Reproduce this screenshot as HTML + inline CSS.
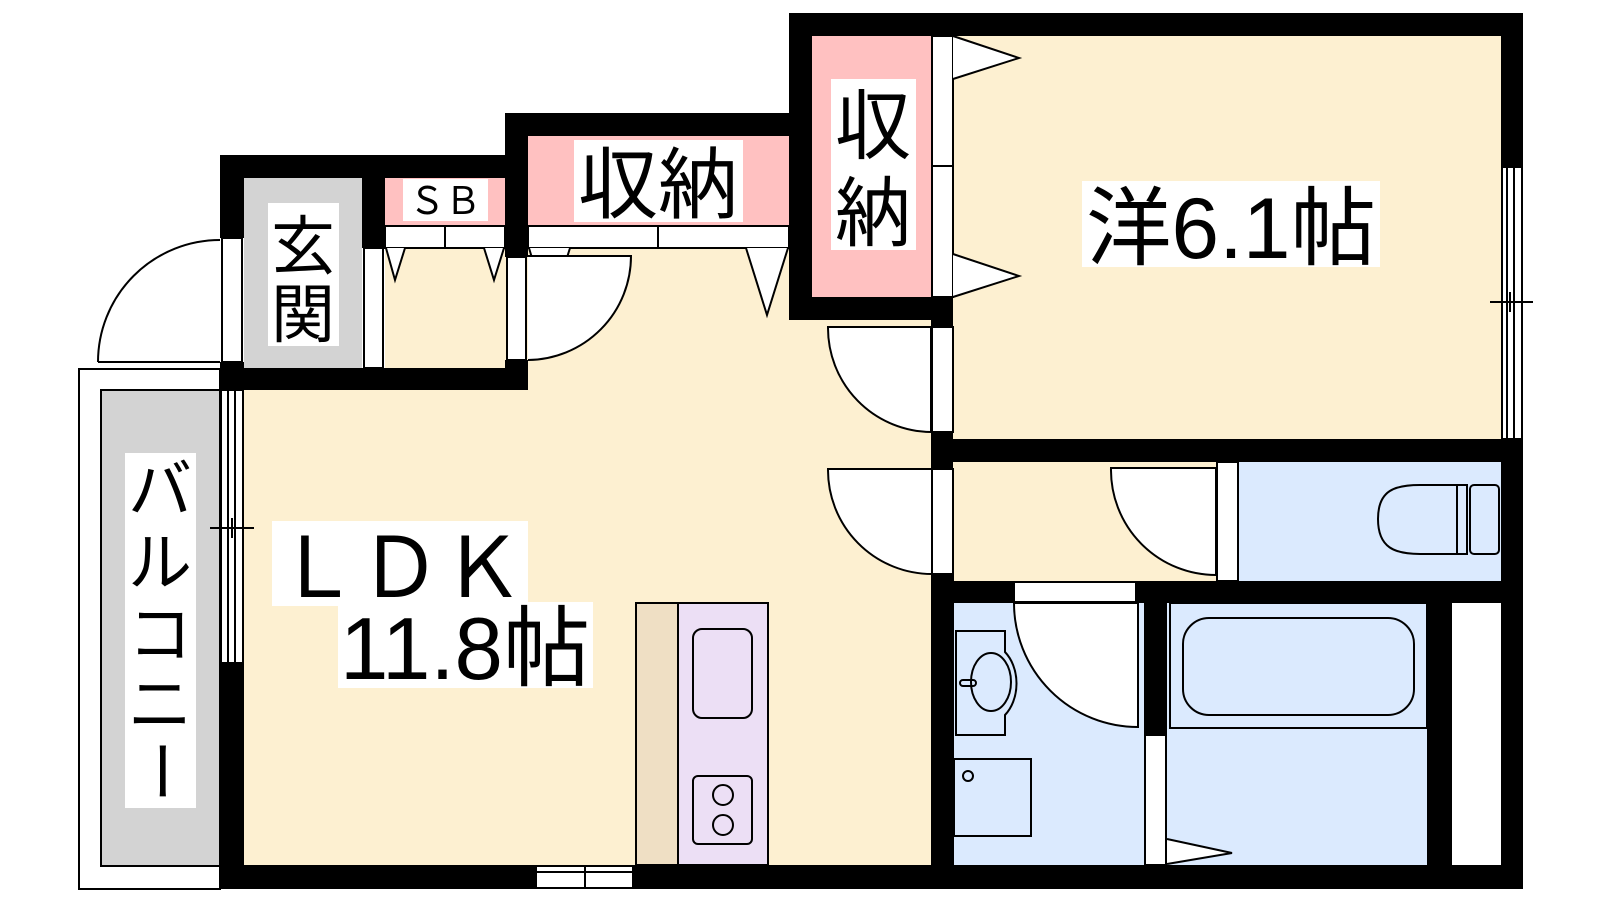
<!DOCTYPE html>
<html><head><meta charset="utf-8"><style>
html,body{margin:0;padding:0;background:#fff}
svg{display:block}
text{font-family:"Liberation Sans","Noto Sans CJK JP",sans-serif;fill:#000}
</style></head><body>
<svg width="1600" height="900" viewBox="0 0 1600 900" xmlns="http://www.w3.org/2000/svg">
<rect width="1600" height="900" fill="#fff"/>
<g stroke="none">
<rect x="244" y="385" width="700" height="485" fill="#fdf0d1"/>
<rect x="525" y="245" width="270" height="150" fill="#fdf0d1"/>
<rect x="789" y="318" width="145" height="75" fill="#fdf0d1"/>
<rect x="385" y="245" width="125" height="125" fill="#fdf0d1"/>
<rect x="950" y="30" width="555" height="415" fill="#fdf0d1"/>
<rect x="950" y="460" width="270" height="125" fill="#fdf0d1"/>
<rect x="1239" y="462" width="265" height="119" fill="#dbeafe"/>
<rect x="954" y="603" width="192" height="262" fill="#dbeafe"/>
<rect x="1167" y="603" width="260" height="262" fill="#dbeafe"/>
<rect x="244" y="178" width="118" height="190" fill="#d3d3d3"/>
<rect x="385" y="178" width="120" height="47" fill="#ffc1c1"/>
<rect x="528" y="136" width="261" height="89" fill="#ffc1c1"/>
<rect x="812" y="36" width="120" height="261" fill="#ffc1c1"/>
<rect x="101" y="390" width="119" height="476" fill="#d3d3d3"/>
</g>
<g fill="none" stroke="#000" stroke-width="2">
<rect x="79" y="369" width="141" height="520" fill="none"/>
<rect x="101" y="390" width="119" height="476"/>
<rect x="385" y="226" width="120" height="22" fill="#fff"/>
<line x1="445" y1="226" x2="445" y2="248"/>
<rect x="528" y="226" width="261" height="22" fill="#fff"/>
<line x1="658" y1="226" x2="658" y2="248"/>
<rect x="932" y="36" width="21" height="261" fill="#fff"/>
<line x1="932" y1="166" x2="953" y2="166"/>
<polyline points="386,248 395,280 405,248" fill="#fff"/>
<polyline points="484,248 494,280 504,248" fill="#fff"/>
<polyline points="529,248 549,315 570,248" fill="#fff"/>
<polyline points="746,248 767,315 788,248" fill="#fff"/>
<polyline points="953,36 1019,58 953,79" fill="#fff"/>
<polyline points="953,254 1019,276 953,297" fill="#fff"/>
<polyline points="1167,839 1232,853 1167,864" fill="#fff"/>
<rect x="222" y="238" width="20" height="124" fill="#fff"/>
<rect x="364" y="248" width="19" height="120" fill="#fff"/>
<rect x="507" y="257" width="19" height="103" fill="#fff"/>
<rect x="932" y="327" width="21" height="105" fill="#fff"/>
<rect x="932" y="469" width="21" height="105" fill="#fff"/>
<rect x="1217" y="462" width="21" height="119" fill="#fff"/>
<rect x="1014" y="582" width="122" height="20" fill="#fff"/>
<rect x="1145" y="735" width="21" height="130" fill="#fff"/>
<path d="M98,362 L220,362 M98,362 A122,122 0 0 1 220,240" fill="#fff"/>
<path d="M528,256 L631,256 A104,104 0 0 1 528,360" fill="#fff"/>
<path d="M828,327 L931,327 L931,432 A104,104 0 0 1 828,327 Z" fill="#fff"/>
<path d="M828,469 L932,469 L932,574 A104,104 0 0 1 828,469 Z" fill="#fff"/>
<path d="M1111,468 L1216,468 L1216,575 A105,105 0 0 1 1111,468 Z" fill="#fff"/>
<path d="M1014,603 L1138,603 L1138,727 A124,124 0 0 1 1014,603 Z" fill="#fff"/>
<rect x="221" y="390" width="22" height="273" fill="#fff"/>
<line x1="228" y1="390" x2="228" y2="663"/><line x1="235" y1="390" x2="235" y2="663"/>
<line x1="210" y1="528" x2="254" y2="528"/><line x1="232" y1="518" x2="232" y2="538"/>
<rect x="1502" y="167" width="20" height="272" fill="#fff"/>
<line x1="1507" y1="167" x2="1507" y2="439"/><line x1="1514" y1="167" x2="1514" y2="439"/>
<line x1="1490" y1="302" x2="1533" y2="302"/><line x1="1510" y1="292" x2="1510" y2="312"/>
<rect x="536" y="866" width="97" height="22" fill="#fff"/>
<line x1="585" y1="866" x2="585" y2="888"/>
<line x1="536" y1="872" x2="633" y2="872"/>
<rect x="636" y="603" width="42" height="262" fill="#efdfc4"/>
<rect x="678" y="603" width="90" height="262" fill="#ecdff5"/>
<rect x="693" y="629" width="59" height="89" rx="9"/>
<rect x="693" y="776" width="59" height="68" rx="5"/>
<circle cx="723" cy="795" r="10"/><circle cx="723" cy="825" r="10"/>
<path d="M1378,519 C1378,490 1395,485 1420,485 L1457,485 L1457,554 L1420,554 C1395,554 1378,548 1378,519 Z"/>
<rect x="1457" y="485" width="10" height="69"/>
<rect x="1470" y="485" width="29" height="69" rx="4"/>
<path d="M956,631 L1005,631 L1005,652 A30,40 0 0 1 1005,715 L1005,735 L956,735 Z"/>
<ellipse cx="991" cy="682" rx="20" ry="29"/>
<rect x="960" y="680" width="16" height="6" rx="3"/>
<rect x="954" y="759" width="77" height="77"/>
<circle cx="968" cy="776" r="5"/>
<rect x="1170" y="603" width="257" height="125"/>
<rect x="1183" y="618" width="231" height="97" rx="26"/>
</g>
<g fill="#000">
<rect x="220" y="155" width="308" height="23"/>
<rect x="220" y="155" width="24" height="83"/>
<rect x="220" y="362" width="24" height="28"/>
<rect x="362" y="155" width="23" height="93"/>
<rect x="220" y="368" width="308" height="22"/>
<rect x="505" y="113" width="23" height="144"/>
<rect x="505" y="360" width="23" height="30"/>
<rect x="505" y="113" width="307" height="23"/>
<rect x="789" y="13" width="23" height="307"/>
<rect x="789" y="13" width="734" height="23"/>
<rect x="789" y="297" width="164" height="23"/>
<rect x="931" y="297" width="22" height="30"/>
<rect x="931" y="432" width="22" height="37"/>
<rect x="931" y="574" width="23" height="315"/>
<rect x="931" y="439" width="592" height="23"/>
<rect x="931" y="581" width="83" height="22"/>
<rect x="1136" y="581" width="387" height="22"/>
<rect x="1144" y="603" width="23" height="132"/>
<rect x="1427" y="603" width="25" height="262"/>
<rect x="1501" y="13" width="22" height="154"/>
<rect x="1501" y="439" width="22" height="450"/>
<rect x="220" y="865" width="316" height="24"/>
<rect x="633" y="865" width="890" height="24"/>
<rect x="220" y="663" width="24" height="226"/>
</g>
<g fill="#fff">
<rect x="268" y="203" width="71" height="143"/>
<rect x="403" y="179" width="85" height="42"/>
<rect x="574" y="140" width="169" height="82"/>
<rect x="831" y="79" width="85" height="171"/>
<rect x="1082" y="181" width="298" height="86"/>
<rect x="272" y="521" width="256" height="85"/>
<rect x="338" y="602" width="255" height="86"/>
<rect x="125" y="453" width="71" height="355"/>
</g>
<text x="303" y="269" font-size="64" text-anchor="middle">玄</text>
<text x="303" y="337" font-size="64" text-anchor="middle">関</text>
<text x="445" y="214" font-size="38" text-anchor="middle" textLength="72" lengthAdjust="spacingAndGlyphs">ＳＢ</text>
<text x="658" y="212" font-size="78" text-anchor="middle" textLength="160" lengthAdjust="spacingAndGlyphs">収納</text>
<text x="873" y="153" font-size="76" text-anchor="middle">収</text>
<text x="873" y="240" font-size="76" text-anchor="middle">納</text>
<text x="1086" y="258" font-size="86" textLength="290" lengthAdjust="spacingAndGlyphs">洋6.1帖</text>
<text x="276" y="597" font-size="84" textLength="248" lengthAdjust="spacingAndGlyphs">ＬＤＫ</text>
<text x="340" y="679" font-size="88" textLength="250" lengthAdjust="spacingAndGlyphs">11.8帖</text>
<text x="160" y="512" font-size="64" text-anchor="middle">バ</text>
<text x="160" y="585" font-size="64" text-anchor="middle">ル</text>
<text x="160" y="657" font-size="64" text-anchor="middle">コ</text>
<text x="160" y="727" font-size="64" text-anchor="middle">ニ</text>
<text transform="translate(160,771) rotate(90)" x="0" y="22" font-size="64" text-anchor="middle">ー</text>
</svg>
</body></html>
